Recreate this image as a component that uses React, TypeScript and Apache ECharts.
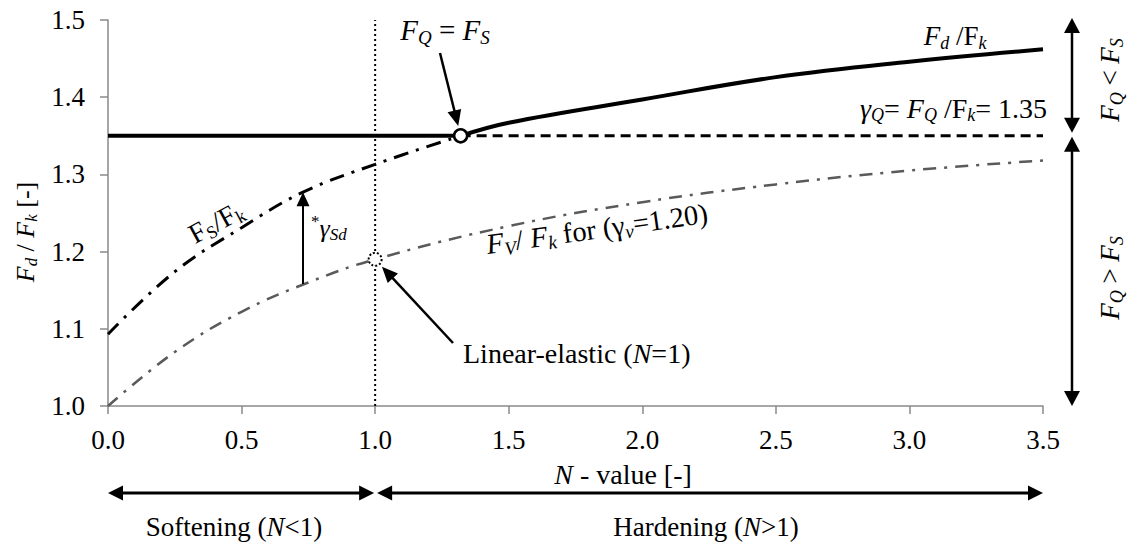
import React, { useEffect, useRef } from "react";
import * as echarts from "echarts";

// ---- data ----
const xTicks = [0, 0.5, 1, 1.5, 2, 2.5, 3, 3.5];
const yTicks = [1.0, 1.1, 1.2, 1.3, 1.4, 1.5];
const xTickLabels = ["0.0", "0.5", "1.0", "1.5", "2.0", "2.5", "3.0", "3.5"];
const yTickLabels = ["1.0", "1.1", "1.2", "1.3", "1.4", "1.5"];
const fvN = [0, 0.25, 0.5, 0.75, 1.0, 1.5, 2.0, 2.5, 3.0, 3.5];
const fvVal = [1.0, 1.07, 1.122, 1.16, 1.19, 1.233, 1.264, 1.287, 1.305, 1.318];
const fsN = [0, 0.25, 0.5, 0.73, 1.0, 1.32];
const fsVal = [1.093, 1.174, 1.231, 1.277, 1.313, 1.35];
const fdN = [1.32, 1.5, 2.0, 2.5, 3.0, 3.5];
const fdVal = [1.35, 1.367, 1.397, 1.426, 1.446, 1.462];
const gammaQ = 1.35;
const intersectN = 1.32;
const linearN = 1.0;
const linearVal = 1.19;
const gammaSdN = 0.73;
const gammaSdFrom = 1.158;
const gammaSdTo = 1.277;

const SERIF = "'Liberation Serif', 'Times New Roman', serif";

function zipPairs(a: number[], b: number[]) {
  return a.map((v, i) => [v, b[i]]);
}

function richStyles(size: number, lh?: number) {
  const sub = Math.round(size * 0.66);
  const L = lh || size + 4;
  return {
    n: { fontSize: size, fontFamily: SERIF, fill: "#000", lineHeight: L },
    i: { fontSize: size, fontFamily: SERIF, fontStyle: "italic", fill: "#000", lineHeight: L },
    s: { fontSize: sub, fontFamily: SERIF, fontStyle: "italic", fill: "#000", verticalAlign: "bottom", lineHeight: sub },
    u: { fontSize: sub, fontFamily: SERIF, fill: "#000", verticalAlign: "bottom", lineHeight: sub },
    p: { fontSize: sub, fontFamily: SERIF, fill: "#000", verticalAlign: "top", lineHeight: sub },
  };
}

function txt(text: string, x: number, y: number, size: number, opts: any = {}) {
  return {
    type: "text",
    x,
    y,
    rotation: opts.rotation || 0,
    z: 100,
    style: {
      text,
      rich: richStyles(size, opts.lh),
      align: opts.align || "center",
      verticalAlign: "middle",
      fill: "#000",
      fontFamily: SERIF,
      fontSize: size,
    },
  };
}

function plainTxt(text: string, x: number, y: number, size: number, align: string) {
  return {
    type: "text",
    x,
    y,
    z: 100,
    style: {
      text,
      align,
      verticalAlign: "middle",
      fill: "#000",
      font: `${size}px ${SERIF}`,
      fontFamily: SERIF,
      fontSize: size,
    },
  };
}

function arrowHead(tx: number, ty: number, ux: number, uy: number, len: number, wid: number) {
  const bx = tx - ux * len;
  const by = ty - uy * len;
  const px = -uy;
  const py = ux;
  return {
    type: "polygon",
    z: 100,
    shape: {
      points: [
        [tx, ty],
        [bx + (px * wid) / 2, by + (py * wid) / 2],
        [bx - (px * wid) / 2, by - (py * wid) / 2],
      ],
    },
    style: { fill: "#000" },
  };
}

function arrow(x1: number, y1: number, x2: number, y2: number, both = false, len = 15, wid = 15, lw = 2.5) {
  const dx = x2 - x1;
  const dy = y2 - y1;
  const d = Math.sqrt(dx * dx + dy * dy);
  const ux = dx / d;
  const uy = dy / d;
  const sx = both ? x1 + ux * (len - 2) : x1;
  const sy = both ? y1 + uy * (len - 2) : y1;
  const ex = x2 - ux * (len - 2);
  const ey = y2 - uy * (len - 2);
  const els: any[] = [
    { type: "line", z: 100, shape: { x1: sx, y1: sy, x2: ex, y2: ey }, style: { stroke: "#000", lineWidth: lw } },
    arrowHead(x2, y2, ux, uy, len, wid),
  ];
  if (both) els.push(arrowHead(x1, y1, -ux, -uy, len, wid));
  return els;
}

export default function App() {
  const ref = useRef<HTMLDivElement>(null);

  useEffect(() => {
    const chart = echarts.init(ref.current!, null, { renderer: "svg" });
    const axisColor = "#8a8a8a";
    const option: any = {
      animation: false,
      backgroundColor: "#fff",
      textStyle: { fontFamily: SERIF },
      grid: { left: 108, right: 101, top: 20, bottom: 136 },
      xAxis: {
        type: "value",
        min: xTicks[0],
        max: xTicks[xTicks.length - 1],
        interval: 0.5,
        axisLine: { onZero: false, lineStyle: { color: axisColor, width: 1.5 } },
        axisTick: { show: true, length: 8, lineStyle: { color: axisColor, width: 1.5 } },
        splitLine: { show: false },
        axisLabel: { show: false },
      },
      yAxis: {
        type: "value",
        min: yTicks[0],
        max: yTicks[yTicks.length - 1],
        interval: 0.1,
        axisLine: { show: true, onZero: false, lineStyle: { color: axisColor, width: 1.5 } },
        axisTick: { show: true, length: 8, lineStyle: { color: axisColor, width: 1.5 } },
        splitLine: { show: false },
        axisLabel: { show: false },
      },
      series: [
        {
          type: "line",
          data: zipPairs(fvN, fvVal),
          smooth: 0.4,
          symbol: "none",
          lineStyle: { color: "#5a5a5a", width: 2.5, type: [13, 8, 3, 8] },
          z: 2,
        },
        {
          type: "line",
          data: zipPairs(fsN, fsVal),
          smooth: 0.4,
          symbol: "none",
          lineStyle: { color: "#000", width: 3, type: [15, 8, 3, 8] },
          z: 3,
        },
        {
          type: "line",
          data: [
            [0, gammaQ],
            [intersectN, gammaQ],
          ],
          symbol: "none",
          lineStyle: { color: "#000", width: 4 },
          z: 4,
        },
        {
          type: "line",
          data: zipPairs(fdN, fdVal),
          smooth: 0.4,
          symbol: "none",
          lineStyle: { color: "#000", width: 4 },
          z: 4,
        },
        {
          type: "line",
          data: [
            [intersectN, gammaQ],
            [xTicks[xTicks.length - 1], gammaQ],
          ],
          symbol: "none",
          lineStyle: { color: "#000", width: 3, type: [10, 6] },
          z: 4,
        },
        {
          type: "line",
          data: [
            [linearN, yTicks[0]],
            [linearN, yTicks[yTicks.length - 1]],
          ],
          symbol: "none",
          lineStyle: { color: "#000", width: 2, type: [2, 3] },
          z: 1,
        },
        {
          type: "scatter",
          data: [[intersectN, gammaQ]],
          symbol: "circle",
          symbolSize: 13,
          itemStyle: { color: "#fff", borderColor: "#000", borderWidth: 2.5, opacity: 1 },
          z: 10,
        },
        {
          type: "scatter",
          data: [[linearN, linearVal]],
          symbol: "circle",
          symbolSize: 13,
          itemStyle: { color: "#fff", borderColor: "#000", borderWidth: 2, borderType: [2, 2], opacity: 1 },
          z: 10,
        },
      ],
    };
    chart.setOption(option);

    const P = (x: number, y: number) => chart.convertToPixel({ gridIndex: 0 } as any, [x, y]) as number[];

    const g: any[] = [];
    // tick labels (positions from the axis scale)
    xTicks.forEach((v, i) => {
      const p = P(v, yTicks[0]);
      g.push(plainTxt(xTickLabels[i], p[0], p[1] + 34, 27, "center"));
    });
    yTicks.forEach((v, i) => {
      const p = P(xTicks[0], v);
      g.push(plainTxt(yTickLabels[i], p[0] - 23, p[1], 27, "right"));
    });
    // y axis name
    g.push(txt("{i|F}{s|d}{n| / }{i|F}{s|k}{n| [-]}", 25, 232, 26, { rotation: Math.PI / 2 }));
    // x axis name
    g.push(txt("{i|N}{n| - value [-]}", 623, 474, 28));
    // bottom arrows
    const yb = 493;
    const x0 = P(0, 1)[0];
    const x1 = P(1, 1)[0];
    const x35 = P(3.5, 1)[0];
    g.push(...arrow(x0, yb, x1 - 1, yb, true, 15, 15, 3));
    g.push(...arrow(x1 + 2, yb, x35, yb, true, 15, 15, 3));
    g.push(txt("{n|Softening (}{i|N}{n|<1)}", 234, 527, 27, { lh: 27 }));
    g.push(txt("{n|Hardening (}{i|N}{n|>1)}", 706, 527, 27, { lh: 27 }));

    // right side arrows
    const xr = 1072;
    const yTop = P(3.5, 1.5)[1];
    const yQ = P(3.5, gammaQ)[1];
    const yBot = P(3.5, 1.0)[1];
    g.push(...arrow(xr, yTop - 2, xr, yQ - 3, true, 15, 16, 2.5));
    g.push(...arrow(xr, yQ + 1, xr, yBot, true, 15, 16, 2.5));
    g.push(txt("{i|F}{s|Q}{n| < }{i|F}{s|S}", 1110, 80, 27, { rotation: Math.PI / 2 }));
    g.push(txt("{i|F}{s|Q}{n| > }{i|F}{s|S}", 1110, 278, 27, { rotation: Math.PI / 2 }));

    // F_Q = F_S
    g.push(txt("{i|F}{s|Q}{n| = }{i|F}{s|S}", 445, 30, 29));
    {
      const c = P(intersectN, gammaQ);
      const sx = 440, sy = 53;
      const dx = c[0] - sx, dy = c[1] - sy;
      const d = Math.sqrt(dx * dx + dy * dy);
      g.push(...arrow(sx, sy, c[0] - (dx / d) * 10, c[1] - (dy / d) * 10, false, 16, 14, 2.5));
    }
    // F_d/F_k label
    g.push(txt("{i|F}{s|d}{n| /F}{s|k}", 955, 36, 27));
    // gamma_Q label
    g.push(txt("{i|γ}{s|Q}{n|= }{i|F}{s|Q}{n| /F}{s|k}{n|= 1.35}", 1047, 108, 28, { align: "right" }));
    // F_S/F_k label
    g.push(txt("{n|F}{u|S}{n|/F}{u|k}", 216, 222, 28, { rotation: 0.5 }));
    // F_V label
    g.push(txt("{i|F}{s|V}{n|/ }{i|F}{s|k}{n| for (γ}{s|v}{n|=1.20)}", 597, 229, 28.5, { rotation: 0.14 }));
    // gamma_Sd arrow
    {
      const a = P(gammaSdN, gammaSdFrom);
      const b = P(gammaSdN, gammaSdTo);
      g.push(...arrow(a[0], a[1], b[0], b[1], false, 14, 13, 2));
      g.push(txt("{p|*}{i|γ}{s|Sd}", b[0] + 8, 228, 26, { align: "left" }));
    }
    // Linear-elastic
    {
      const c = P(linearN, linearVal);
      const sx = 453, sy = 343;
      const dx = c[0] - sx, dy = c[1] - sy;
      const d = Math.sqrt(dx * dx + dy * dy);
      g.push(...arrow(sx, sy, c[0] - (dx / d) * 10, c[1] - (dy / d) * 10, false, 16, 14, 2.5));
      g.push(txt("{n|Linear-elastic (}{i|N}{n|=1)}", 463, 353, 28, { align: "left" }));
    }

    chart.setOption({ graphic: { elements: g } });

    return () => chart.dispose();
  }, []);

  return (
    <div
      ref={ref}
      style={{ position: "fixed", left: 0, top: 0, width: 1144, height: 542, background: "#fff" }}
    />
  );
}
